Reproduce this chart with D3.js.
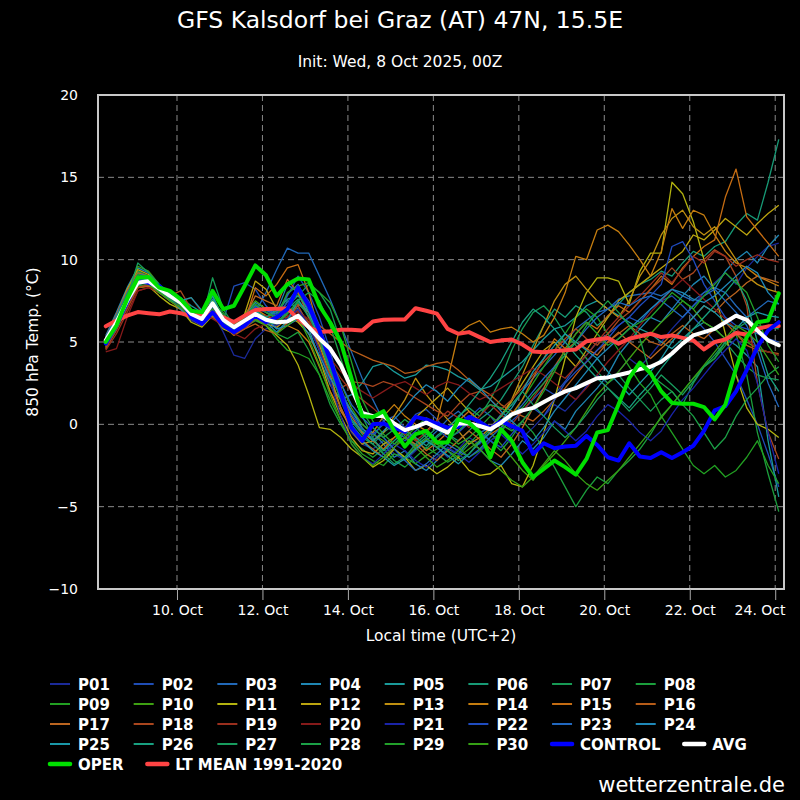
<!DOCTYPE html>
<html><head><meta charset="utf-8">
<script src="https://cdn.jsdelivr.net/npm/d3@7"></script>
<style>
html,body{margin:0;background:#000;}
svg{display:block;}
text{font-family:"DejaVu Sans",sans-serif;fill:#fff;}
</style></head><body>
<svg id="c" width="800" height="800"></svg>
<script>
// ---- data ----
const titleText = "GFS Kalsdorf bei Graz (AT) 47N, 15.5E";
const subtitleText = "Init: Wed, 8 Oct 2025, 00Z";
const startTime = Date.UTC(2025, 9, 8, 8);   // first step, local time (UTC+2)
const stepHours = 6;
const yTicks = [-10, -5, 0, 5, 10, 15, 20];
const xTickDates = ["2025-10-10","2025-10-12","2025-10-14","2025-10-16","2025-10-18","2025-10-20","2025-10-22","2025-10-24"];
const xTickLabels = ["10. Oct","12. Oct","14. Oct","16. Oct","18. Oct","20. Oct","22. Oct","24. Oct"];

const memberNames = ["P01","P02","P03","P04","P05","P06","P07","P08","P09","P10","P11","P12","P13","P14","P15","P16","P17","P18","P19","P20","P21","P22","P23","P24","P25","P26","P27","P28","P29","P30"];
const memberColors = ["#1b2a9a","#1f4db5","#2168b8","#1f86b3","#1a9a9a","#179a76","#179a55","#1b9e3c","#22a022","#3ea012","#b3b30f","#bba40f","#bf8f10","#c57d0f","#c56c12","#b65c18","#bb6520","#a9461e","#9a2f1e","#851a1a","#1a24a8","#1f4cc0","#2168c0","#1f88b8","#1a98a8","#18a080","#189c5e","#1ba046","#22a02a","#36a015"];

const P01 = [4.8,6.0,7.6,8.9,8.8,8.0,7.5,7.2,6.3,6.0,6.8,5.6,4.2,4.0,5.2,5.8,6.0,6.5,7.2, 6.0,4.5,2.8,1.0,-0.5,-1.2, -1.5,-1.0,-1.8,-2.2,-1.6,-1.0,-1.4,-2.0,-1.5,-0.8,-1.2,-0.5,0.2,-0.3, -0.8,-0.2,0.5,1.2,0.8,1.5,2.3,3.0,2.5,3.2,4.0,3.5, 4.2,5.0,5.8,6.5,7.2,8.0,8.6,9.2,8.5,9.5,10.2,10.8,11.0];
const P02 = [5.0,6.3,7.8,8.8,8.5,8.2,7.6,7.3,6.6,6.2,7.0,6.3,8.4,8.6,8.2,7.2,6.5,7.8,9.0, 8.0,6.5,4.5,2.0,0.3,-0.5, -0.8,0.2,0.5,-0.2,0.6,0.9,0.3,-0.5,-0.2,0.4,1.0,0.5,-0.3,0.2, 0.8,1.5,2.2,1.8,2.6,3.5,4.2,5.0,5.5,6.0,6.5,6.2, 7.0,7.5,7.8,7.2,6.5,5.8,5.0,4.0,3.0,1.5,0.0,-1.8,-3.8];
const P03 = [5.2,6.5,8.0,9.2,9.0,8.3,7.8,7.2,6.5,6.3,7.3,6.2,5.6,6.0,6.8,8.0,9.4,10.7,10.4, 10.4,9.0,7.6,6.0,4.4,2.8, 1.5,0.2,-0.5,-0.8,-1.5,-1.0,-0.4,0.3,0.8,0.2,-0.5,-0.2,0.6,1.2, 2.0,2.8,3.5,4.2,5.0,5.8,6.3,6.8,7.0,7.6,7.8,7.9, 8.0,7.8,8.2,7.8,7.5,8.0,8.3,8.0,7.2,6.5,7.0,7.5,7.3];
const P04 = [5.4,6.8,8.3,9.5,9.2,8.5,7.8,7.0,6.4,6.0,6.9,6.5,6.0,6.6,7.4,7.0,6.8,8.5,8.0, 6.8,5.2,3.5,2.0,0.8,0.0, -0.5,-1.2,-2.0,-1.6,-2.4,-2.8,-2.2,-1.5,-1.8,-1.0,-1.5,-2.2,-2.5,-1.8, -1.0,-1.5,-0.8,0.2,-0.3,0.8,1.5,2.2,3.0,4.2,5.0,5.8, 6.5,6.2,7.0,7.8,8.5,9.0,8.2,9.3,10.0,10.5,9.8,10.8,11.5];
const P05 = [5.0,6.2,7.4,8.5,8.6,8.0,7.5,7.7,7.2,6.8,7.6,6.3,5.8,6.2,6.9,6.5,6.2,7.5,7.0, 5.8,4.0,2.4,1.5,1.8,2.5, 3.5,3.7,3.2,2.8,3.0,3.6,3.5,3.3,2.9,2.6,2.1,2.3,2.8,3.3, 3.8,4.5,5.2,5.8,6.0,6.5,7.2,7.5,7.0,6.6,6.2,5.8, 5.5,5.0,4.6,5.2,5.8,6.2,5.8,5.2,4.8,4.2,3.5,-1.0,-4.4];
const P06 = [4.9,6.0,7.7,9.0,8.9,8.3,7.9,7.6,6.9,6.5,7.5,6.6,6.2,6.5,7.2,6.8,6.4,7.0,7.6, 6.5,5.0,3.2,1.5,0.2,-0.6, -1.2,-0.5,0.0,-0.7,-1.3,-0.8,-0.2,-0.6,-1.0,-0.4,0.3,0.8,1.5,2.5, 3.5,4.8,6.0,7.0,6.5,7.2,6.8,6.0,6.5,7.3,8.0,8.5, 8.8,9.3,9.0,9.8,10.5,10.2,10.8,11.1,12.1,12.8,12.4,14.7,17.3];
const P07 = [5.0,6.3,7.9,9.3,9.0,8.4,7.7,7.3,6.8,6.3,8.9,7.0,6.0,6.4,6.8,6.4,5.8,7.2,7.8, 8.5,8.0,7.0,5.0,2.5,0.5, -0.8,-1.8,-1.2,-0.5,-1.0,-1.5,-0.8,-0.3,0.5,1.0,0.5,1.5,2.8,4.5, 5.8,6.8,7.2,6.5,5.5,4.8,4.0,3.2,2.5,3.0,2.2,1.5, 0.8,1.5,2.0,1.2,2.5,3.5,4.0,5.0,4.2,3.5,3.0,2.8,2.7];
const P08 = [4.7,5.8,7.2,8.4,8.5,8.1,7.6,7.0,6.5,6.2,7.0,6.0,5.5,5.9,6.3,6.0,5.5,5.2,5.6, 4.5,3.0,1.2,0.0,-1.0,-1.5, -2.0,-1.5,-2.2,-2.6,-2.0,-1.4,-1.8,-2.3,-1.9,-1.2,-0.5,-1.0,-1.6,-0.8, 0.2,-0.5,-1.5,-2.6,-3.8,-5.0,-4.0,-3.2,-3.6,-2.8,-2.2,-1.5, -0.6,0.5,1.2,2.0,2.8,3.5,4.0,4.8,5.5,3.0,-0.5,-3.0,-5.3];
const P09 = [4.8,6.1,7.6,8.8,8.8,8.2,7.7,7.4,6.6,6.4,7.4,6.8,5.8,6.2,6.6,6.0,5.2,4.5,4.3, 4.0,3.0,1.5,0.2,-1.0,-1.8, -2.2,-2.5,-1.8,-2.0,-2.4,-1.9,-1.5,-1.0,-1.4,-2.0,-1.6,-1.0,-0.5,0.5, 1.5,2.5,3.5,4.5,5.5,6.5,7.0,6.5,5.5,4.5,3.5,2.5, 1.8,0.5,-0.5,-1.5,-2.5,-3.0,-2.5,-3.2,-2.8,-2.0,-1.0,-2.5,-3.6];
const P10 = [5.1,6.4,8.0,9.6,9.3,8.5,7.9,7.4,6.7,6.6,7.8,6.5,6.0,6.7,7.5,7.0,6.5,7.0,8.0, 7.0,5.5,4.0,2.5,1.0,0.0, -0.6,-1.0,-1.5,-2.0,-1.4,-0.9,-1.2,-1.6,-2.0,-1.5,-1.0,-0.5,-1.2,-2.0, -2.8,-3.4,-2.5,-1.8,-1.0,-0.2,0.8,1.8,2.5,3.2,4.0,4.8, 5.5,6.2,6.8,7.5,7.0,6.2,5.8,5.2,5.5,5.0,4.6,4.4,4.2];
const P11 = [4.9,6.0,7.3,8.3,8.4,7.8,7.3,7.0,6.2,5.9,6.6,5.8,5.5,6.0,6.4,6.0,5.4,4.8,3.6, 1.8,-0.2,-0.3,-0.8,-1.5,-2.0, -2.6,-2.2,-1.5,-2.0,-2.8,-2.5,-3.0,-2.6,-2.0,-2.8,-3.1,-3.0,-2.5,-3.6, -3.8,-2.5,-0.5,1.5,4.0,6.5,8.0,8.9,8.9,8.7,7.3,9.3, 10.4,10.4,14.7,14.0,12.3,10.0,8.0,5.5,3.0,1.0,0.0,-0.3,-0.8];
const P12 = [5.2,6.6,8.2,9.4,9.1,8.4,7.9,7.5,6.9,6.5,7.2,6.4,5.9,6.7,8.7,8.2,7.0,6.6,6.2, 5.5,4.0,2.0,0.5,-0.8,-1.6, -1.8,-1.2,-0.8,-0.3,0.4,1.0,1.6,2.2,1.5,0.8,0.2,-0.2,0.5,1.4, 2.5,3.5,4.5,5.0,4.2,3.5,4.5,5.5,6.5,7.5,8.0,8.5, 9.0,9.5,10.0,10.5,11.5,11.2,11.8,12.5,12.0,11.5,12.2,12.8,13.3];
const P13 = [4.6,5.9,7.4,8.6,8.7,8.0,7.6,7.2,6.4,6.1,6.9,6.0,5.6,6.0,6.5,6.1,5.9,6.4,7.0, 6.2,4.8,3.0,1.0,-0.4,-1.2, -1.0,-0.5,0.5,1.5,2.8,1.8,1.0,0.3,-0.4,-1.2,-0.8,-0.2,0.5,1.5, 3.0,4.5,6.0,7.5,8.5,9.0,8.2,7.5,7.0,6.5,7.5,9.0, 10.0,11.5,12.5,13.0,12.0,11.5,12.0,11.0,10.0,9.0,8.5,8.2,8.0];
const P14 = [5.0,6.2,7.6,8.8,8.9,8.3,7.8,7.3,6.7,6.4,7.5,6.6,6.1,6.5,7.0,6.6,6.3,6.0,5.7, 5.0,3.5,2.0,0.8,-0.2,-0.8, -0.5,0.5,1.2,0.5,0.0,-0.4,0.2,2.7,5.5,6.0,6.3,5.6,5.8,5.9, 5.5,5.0,5.4,6.5,8.0,10.2,10.0,11.8,12.1,11.7,10.9,10.0, 9.0,10.5,13.1,11.9,13.0,12.7,11.5,10.5,9.8,9.5,9.0,8.7,8.4];
const P15 = [4.8,6.1,7.5,8.7,8.6,8.1,7.7,7.1,6.5,6.1,7.0,6.2,5.8,6.2,8.3,7.8,8.5,9.5,9.7, 8.0,5.5,3.5,1.8,0.5,-0.5, -1.0,-1.5,-0.8,-0.2,-0.9,-1.6,-1.1,-0.5,0.2,0.8,0.2,-0.6,-0.2,0.6, 1.5,2.8,4.0,5.2,4.6,5.5,6.2,5.8,6.6,7.2,6.8,7.5, 8.2,9.0,8.5,9.5,10.2,10.8,11.2,13.8,15.5,12.6,11.8,11.0,10.2];
const P16 = [4.7,5.8,7.1,8.3,8.4,8.0,7.5,7.0,6.4,6.0,6.8,6.0,5.4,5.8,6.1,5.7,5.5,6.2,7.3, 6.8,6.0,5.5,5.0,4.5,4.2, 3.9,3.7,3.5,3.1,3.2,3.5,3.7,3.8,3.3,2.7,2.2,1.8,1.2,0.8, 0.5,0.2,0.8,1.5,2.2,3.0,3.8,4.5,5.0,5.5,6.0,5.5, 5.0,4.8,5.5,6.0,5.5,5.2,5.8,6.2,5.5,4.8,4.5,4.4,4.3];
const P17 = [5.3,6.7,8.1,9.2,9.0,8.3,7.8,7.6,7.0,6.6,7.3,6.4,6.0,6.5,7.8,7.5,7.2,8.8,8.0, 6.5,4.5,2.5,1.0,-0.3,-1.0, -1.5,-2.0,-1.4,-0.8,-1.2,-1.8,-2.2,-1.6,-1.0,-0.4,-0.9,-1.5,-2.0,-1.2, -0.2,1.0,2.2,3.5,4.5,5.0,4.6,4.2,5.0,5.6,5.0,4.5, 4.0,4.6,5.2,5.8,6.5,7.2,6.8,7.5,8.0,8.6,9.0,8.8,8.6];
const P18 = [4.6,5.7,7.0,8.3,8.5,8.2,7.8,8.1,7.0,6.2,6.5,5.9,5.5,5.8,6.4,6.2,6.0,6.8,7.2, 6.0,4.5,3.0,2.2,2.6,2.5, 2.3,2.6,2.4,2.0,1.6,1.2,0.8,0.5,1.2,1.8,2.0,1.5,0.9,1.5, 2.2,3.0,3.8,4.5,5.2,5.8,5.2,4.8,5.5,6.3,6.8,7.5, 8.2,8.8,9.5,8.8,9.2,10.0,10.6,10.2,9.0,7.2,2.5,-0.5,-2.1];
const P19 = [4.5,5.5,6.8,8.1,8.3,8.0,7.6,7.2,6.8,6.4,7.1,6.2,5.7,6.1,6.7,6.6,6.4,6.5,6.9, 6.2,5.0,3.8,2.8,2.0,1.5, 1.0,0.4,-0.2,-0.6,-1.0,-0.5,0.2,0.8,0.4,-0.2,0.5,1.2,0.6,0.0, 0.8,1.6,2.5,3.2,2.8,3.5,4.2,5.0,5.8,6.5,7.2,7.8, 8.5,9.2,8.6,9.4,10.2,9.8,10.5,10.2,9.6,10.0,10.3,10.0,9.85];
const P20 = [4.4,4.6,6.5,8.1,8.3,8.2,7.9,7.5,7.7,6.8,6.4,6.0,5.5,5.2,5.8,6.1,6.3,6.6,6.8, 6.4,5.2,4.0,3.2,2.5,2.0, 1.6,2.0,2.4,2.6,2.2,1.8,2.3,2.6,2.4,1.9,1.5,1.8,2.2,2.6, 3.0,3.4,3.0,2.5,2.0,1.5,2.2,3.0,3.8,4.5,5.2,6.0, 6.8,7.5,8.2,8.8,8.2,7.6,7.0,6.4,5.8,5.2,4.6,4.4,4.2];
const P21 = [4.9,6.1,7.6,8.6,8.6,8.2,7.6,7.2,6.5,6.3,7.1,6.1,5.5,6.0,6.6,6.2,6.0,6.4,7.0, 6.0,4.5,2.6,0.5,-1.2,-2.0, -2.4,-1.8,-1.2,-1.6,-2.2,-2.6,-2.0,-1.4,-1.8,-2.3,-1.7,-1.0,-0.6,-1.2, -1.8,-1.2,-0.5,0.2,-0.4,-1.0,-0.4,0.5,1.2,0.8,0.2,-0.5, -1.0,-0.4,0.6,1.5,2.2,3.0,3.8,4.5,5.2,4.5,2.5,-0.5,-3.0];
const P22 = [5.1,6.3,7.7,8.9,8.8,8.3,7.8,7.3,6.6,6.2,7.2,6.3,5.7,6.4,7.1,6.8,6.6,7.4,8.3, 7.5,6.0,4.2,2.2,0.6,-0.3, -0.6,0.0,-0.5,-1.0,-0.4,0.2,-0.3,-0.8,-0.5,0.1,-0.4,-1.0,-1.4,-0.6, 0.2,1.0,0.5,1.5,2.5,3.2,3.8,4.5,5.2,6.0,6.5,7.2, 7.8,8.5,10.8,11.1,10.0,8.5,7.5,6.5,6.0,5.8,5.5,5.2,5.0];
const P23 = [5.3,6.6,8.0,9.1,9.0,8.4,7.9,7.4,6.8,6.4,7.4,6.5,6.1,6.6,7.2,6.9,6.7,7.9,8.5, 7.2,5.8,4.0,2.5,1.2,0.4, -0.2,-0.8,-1.5,-2.2,-2.8,-2.4,-1.8,-1.2,-1.6,-2.0,-1.5,-0.8,-0.2,0.5, 1.2,2.0,2.8,3.5,4.2,5.0,5.8,6.5,7.0,7.4,7.2,7.6, 7.8,7.5,7.0,6.5,7.2,7.8,8.2,7.5,6.8,6.0,4.5,2.5,1.05];
const P24 = [5.0,6.4,7.8,9.0,8.7,8.1,7.6,7.0,6.4,6.2,7.6,6.6,5.9,6.3,6.9,6.4,5.8,6.0,6.4, 5.5,4.2,2.8,1.8,0.8,-0.2, -1.0,-0.4,0.3,1.0,1.8,2.4,2.0,1.4,2.2,2.8,2.2,1.5,0.8,0.2, -0.4,-1.0,-0.2,0.8,1.6,2.4,3.2,4.0,4.6,5.2,5.8,6.4, 7.0,7.6,8.2,8.0,7.6,7.4,7.8,8.4,9.0,9.6,9.2,8.0,7.3];
const P25 = [4.8,6.0,7.6,8.9,8.6,8.0,7.7,7.5,7.7,6.9,7.8,6.4,5.8,6.3,6.8,6.2,5.6,6.3,7.5, 6.8,5.2,3.4,1.6,0.0,-1.0, -1.6,-2.0,-2.5,-2.1,-1.5,-1.0,-1.4,-1.9,-2.4,-1.8,-1.1,-0.5,0.2,1.0, 2.0,3.2,4.0,4.8,5.5,5.0,4.5,4.0,3.2,2.5,1.8,2.5, 3.2,4.0,5.0,5.8,6.5,7.2,6.8,6.2,5.8,6.5,6.8,6.6,6.5];
const P26 = [5.2,6.5,7.9,9.0,8.8,8.2,7.7,7.3,6.6,6.3,7.2,6.2,5.7,6.1,6.9,6.5,6.9,7.6,7.8, 7.0,5.5,3.6,1.6,0.3,-0.4, -0.9,-1.6,-1.0,-0.4,-0.8,-1.3,-0.7,-0.2,0.4,1.2,2.0,2.8,3.8,5.0, 6.2,7.0,6.5,5.8,5.0,4.2,3.5,2.8,2.2,1.6,1.0,1.8, 2.5,3.4,4.2,5.0,5.8,6.5,7.2,8.0,8.8,7.5,5.0,3.0,2.0];
const P27 = [4.9,6.2,7.7,9.8,9.2,8.5,7.9,7.4,6.5,6.2,7.2,6.3,5.9,6.3,6.7,6.3,6.2,6.8,7.4, 6.6,5.2,3.4,1.4,0.0,-0.8, -1.2,-1.8,-2.4,-2.0,-1.2,-0.6,-1.0,-1.6,-2.2,-1.8,-1.0,-0.3,0.5,1.2, 2.0,1.2,0.5,-0.2,-0.8,-0.2,0.6,1.5,2.2,1.5,0.8,1.5, 2.2,3.0,2.4,1.8,2.6,3.5,4.2,5.0,5.8,6.2,6.0,5.9,5.8];
const P28 = [5.0,6.1,7.5,8.7,8.6,8.1,7.6,7.3,6.6,6.3,7.3,6.4,5.9,6.2,6.6,6.2,6.1,6.7,7.5, 8.0,7.5,6.0,4.0,2.0,0.8, -0.2,-0.8,-0.3,0.3,-0.2,-0.8,-1.4,-1.0,-0.4,0.2,0.8,1.2,1.0,0.6, 1.0,1.8,2.5,3.4,4.2,5.0,6.0,6.8,7.5,6.8,6.0,5.2, 3.0,2.5,2.0,1.2,0.5,-0.5,-1.5,-0.8,0.5,1.5,2.2,3.0,3.5];
const P29 = [5.1,6.4,7.9,9.1,8.9,8.3,7.8,7.2,6.6,6.4,7.5,6.6,6.1,6.5,7.3,6.8,6.5,8.0,8.4, 8.6,8.0,7.4,6.0,3.8,1.5, 0.2,-0.6,-1.2,-0.8,-0.2,0.4,0.0,-0.6,-1.2,-0.8,-0.2,0.5,0.0,-0.4, 0.2,1.0,2.0,3.2,4.5,5.5,6.2,5.5,4.8,5.2,5.8,6.2, 6.5,7.2,8.0,7.5,7.0,7.8,8.5,9.2,8.6,8.0,6.5,4.8,3.8];
const P30 = [4.9,6.0,7.4,8.6,8.5,8.0,7.5,7.1,6.5,6.1,7.0,6.1,5.6,6.0,6.4,6.0,5.5,6.0,6.5, 5.2,3.6,1.8,0.2,-1.2,-2.0, -2.5,-2.0,-1.4,-0.8,-1.4,-2.0,-2.6,-2.2,-1.6,-1.0,-1.5,-2.2,-2.8,-3.4, -3.8,-3.2,-2.4,-1.6,-2.2,-3.0,-3.6,-4.0,-3.4,-2.8,-2.0,-1.2, -0.4,0.4,1.2,2.0,2.8,3.6,4.4,5.2,6.0,5.6,5.0,4.0,3.0];

const CONTROL = [4.9,6.0,7.4,8.7,8.6,8.4,7.9,7.6,6.5,6.1,6.8,6.0,5.6,6.0,6.6,6.2,6.5,7.0,8.3, 7.2,5.7,3.9,1.9,-0.2,-1.0, 0.0,0.05,-0.2,-0.45,0.45,0.3,0.05,-0.2,-0.15,0.45,0.15,-0.25,0.2,-0.1, -0.4,-1.8,-1.15,-1.45,-1.35,-1.3,-0.7,-1.25,-2.0,-2.2,-1.15,-1.95, -2.05,-1.7,-2.05,-1.7,-1.3,-0.4,0.85,1.1,2.0,3.3,4.7,5.7,6.2];
const AVG = [5.1,6.2,7.5,8.6,8.7,8.25,7.8,7.4,6.7,6.4,7.35,6.35,5.9,6.3,6.7,6.35,6.2,6.25,6.6, 5.9,5.2,4.6,3.6,2.2,0.7, 0.5,0.5,0.05,-0.35,-0.15,0.1,-0.2,-0.5,0.05,0.05,-0.1,-0.3,0.1,0.6, 0.85,1.0,1.35,1.7,2.0,2.2,2.5,2.8,2.85,3.0,3.15,3.35, 3.5,3.8,4.3,4.9,5.4,5.6,5.8,6.2,6.6,6.35,5.7,5.1,4.8];
const OPER = [5.0,6.0,7.6,8.9,8.95,8.3,8.1,7.6,6.9,6.8,8.1,7.0,7.2,8.4,9.65,9.05,7.8,8.5,8.85, 8.8,7.2,6.2,5.0,2.8,0.5, 0.45,0.8,-0.4,-1.35,-0.6,-0.4,-1.1,-1.1,0.3,0.1,-0.5,-2.0,-0.3,-1.0, -2.3,-3.2,-2.7,-2.2,-2.6,-3.05,-2.1,-0.5,-0.35,1.2,2.8,3.75, 3.1,2.0,1.3,1.25,1.25,1.05,0.3,1.2,3.4,5.3,6.2,6.3,7.95];
const LTMEAN = [5.95,6.3,6.6,6.82,6.75,6.68,6.85,6.75,6.56,6.65,6.76,6.5,6.21,6.6,6.95,7.0,7.02,7.04,6.4, 5.9,5.6,5.65,5.75,5.75,5.7, 6.25,6.35,6.37,6.37,7.05,6.9,6.72,5.8,5.5,5.6,5.3,5.0,5.1,5.15, 4.85,4.43,4.38,4.45,4.5,4.55,5.05,5.15,5.24,4.9,5.2,5.35, 5.5,5.3,5.4,5.25,5.1,4.55,5.0,5.15,5.55,5.45,5.8,5.95,5.97];

const members = [P01,P02,P03,P04,P05,P06,P07,P08,P09,P10,P11,P12,P13,P14,P15,P16,P17,P18,P19,P20,P21,P22,P23,P24,P25,P26,P27,P28,P29,P30];

const specials = [
  {name:"CONTROL", data:CONTROL, color:"#0000ff"},
  {name:"AVG", data:AVG, color:"#ffffff"},
  {name:"OPER", data:OPER, color:"#00e000"},
  {name:"LT MEAN 1991-2020", data:LTMEAN, color:"#ff4444"}
];

// ---- drawing ----
const svg = d3.select("#c");
const plot = {left:98, right:784, top:95, bottom:589};
const x = d3.scaleUtc()
  .domain([new Date(Date.UTC(2025,9,8,3,38)), new Date(Date.UTC(2025,9,24,4,56))])
  .range([plot.left, plot.right]);
const y = d3.scaleLinear().domain([-10, 20]).range([plot.bottom, plot.top]);
const tickDates = xTickDates.map(s => new Date(s + "T00:00:00Z"));
const timeAt = i => new Date(startTime + i * stepHours * 3600e3);

svg.append("rect").attr("width",800).attr("height",800).attr("fill","#000");

// title
svg.append("text").attr("x",400).attr("y",28).attr("text-anchor","middle")
  .attr("font-size",23.5).text(titleText);
svg.append("text").attr("x",400).attr("y",67).attr("text-anchor","middle")
  .attr("font-size",15.5).text(subtitleText);

// grid
const grid = svg.append("g");
grid.selectAll("line.h").data(yTicks.filter(v => v > -10 && v < 20)).join("line")
  .attr("x1",plot.left).attr("x2",plot.right)
  .attr("y1",d=>y(d)).attr("y2",d=>y(d))
  .attr("stroke","#8a8a8a").attr("stroke-width",1).attr("stroke-dasharray","6,4");
grid.selectAll("line.v").data(tickDates).join("line")
  .attr("x1",d=>x(d)).attr("x2",d=>x(d))
  .attr("y1",plot.top).attr("y2",plot.bottom)
  .attr("stroke","#8a8a8a").attr("stroke-width",1).attr("stroke-dasharray","6,4");

// series
svg.append("defs").append("clipPath").attr("id","clip").append("rect")
  .attr("x",plot.left).attr("y",plot.top).attr("width",plot.right-plot.left).attr("height",plot.bottom-plot.top);
const line = d3.line().x((d,i)=>x(timeAt(i))).y(d=>y(d));
const gS = svg.append("g").attr("clip-path","url(#clip)");
members.forEach((m,k) => {
  gS.append("path").attr("d",line(m)).attr("fill","none")
    .attr("stroke",memberColors[k]).attr("stroke-width",1.3).attr("stroke-linejoin","round");
});
const drawOrder = ["LT MEAN 1991-2020","CONTROL","AVG","OPER"];
drawOrder.forEach(n => {
  const s = specials.find(q => q.name === n);
  gS.append("path").attr("d",line(s.data)).attr("fill","none")
    .attr("stroke",s.color).attr("stroke-width",4).attr("stroke-linejoin","round").attr("stroke-linecap","round");
});

// frame
svg.append("rect").attr("x",plot.left).attr("y",plot.top)
  .attr("width",plot.right-plot.left).attr("height",plot.bottom-plot.top)
  .attr("fill","none").attr("stroke","#c8c8c8").attr("stroke-width",2);

// axes
const yAxis = svg.append("g").attr("transform",`translate(${plot.left},0)`)
  .call(d3.axisLeft(y).tickValues(yTicks).tickSize(0).tickPadding(20).tickFormat(d3.format("d")));
yAxis.select(".domain").remove();
yAxis.selectAll("text").attr("font-size",14).attr("fill","#fff")
  .style("font-family",'"DejaVu Sans",sans-serif');

const xAxis = svg.append("g").attr("transform",`translate(0,${plot.bottom})`)
  .call(d3.axisBottom(x).tickValues(tickDates).tickSize(11).tickPadding(5).tickFormat((d,i)=>xTickLabels[i]));
xAxis.select(".domain").remove();
xAxis.selectAll("line").attr("stroke","#aaaaaa");
xAxis.selectAll("text").attr("font-size",14).attr("fill","#fff")
  .style("font-family",'"DejaVu Sans",sans-serif');
// keep the last label inside the plot's right edge
xAxis.selectAll(".tick").each(function(d){
  const t = d3.select(this).select("text");
  const w = t.node().getComputedTextLength();
  const over = x(d) + w/2 - (plot.right + 1);
  if (over > 0) t.attr("x", -over);
});

svg.append("text").attr("transform","translate(38,342) rotate(-90)").attr("text-anchor","middle")
  .attr("font-size",15.5).text("850 hPa Temp. (°C)");
svg.append("text").attr("x",(plot.left+plot.right)/2).attr("y",641).attr("text-anchor","middle")
  .attr("font-size",15.5).text("Local time (UTC+2)");

// legend
const legendItems = memberNames.map((n,k)=>({name:n,color:memberColors[k],thick:false}))
  .concat(specials.map(s=>({name:s.name,color:s.color,thick:true})));
const legendRows = [
  ["P01","P02","P03","P04","P05","P06","P07","P08"],
  ["P09","P10","P11","P12","P13","P14","P15","P16"],
  ["P17","P18","P19","P20","P21","P22","P23","P24"],
  ["P25","P26","P27","P28","P29","P30","CONTROL","AVG"],
  ["OPER","LT MEAN 1991-2020"]
];
const gL = svg.append("g");
legendRows.forEach((row,r) => {
  let cx = 50;
  const cy = 684 + r*20;
  row.forEach(n => {
    const it = legendItems.find(q=>q.name===n);
    gL.append("line").attr("x1",cx).attr("x2",cx+20).attr("y1",cy).attr("y2",cy)
      .attr("stroke",it.color).attr("stroke-width",it.thick?4.5:2)
      .attr("stroke-linecap",it.thick?"round":"butt");
    const t = gL.append("text").attr("x",cx+28).attr("y",cy+5.5).attr("font-size",15)
      .attr("font-weight","bold").text(n);
    const w = t.node().getComputedTextLength();
    cx += 28 + w + 23.8;
  });
});

svg.append("text").attr("x",785).attr("y",792).attr("text-anchor","end")
  .attr("font-size",21).text("wetterzentrale.de");
</script>
</body></html>
